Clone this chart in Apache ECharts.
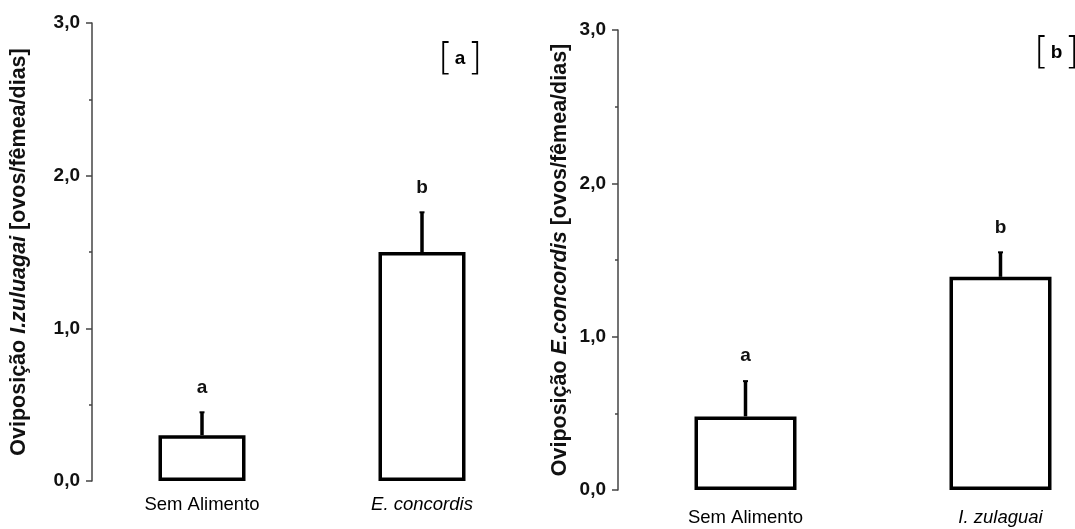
<!DOCTYPE html>
<html>
<head>
<meta charset="utf-8">
<script src="https://cdn.jsdelivr.net/npm/echarts@6/dist/echarts.min.js"></script>
<style>
  html, body { margin: 0; padding: 0; background: #fff; }
  #chart { width: 1075px; height: 529px; }
</style>
</head>
<body>
<div id="chart"></div>
<script>
// panel (a): I. zuluagai fed on E. concordis
const categoriesA = ['Sem Alimento', 'E. concordis'];
const meansA = [0.3, 1.5];
const upperA = [0.45, 1.76];
const lettersA = ['a', 'b'];

// panel (b): E. concordis fed on I. zulaguai
const categoriesB = ['Sem Alimento', 'I. zulaguai'];
const meansB = [0.48, 1.39];
const upperB = [0.71, 1.55];
const lettersB = ['a', 'b'];

const yMin = 0;
const yMax = 3;
const yStep = 1;

const font = '"Liberation Sans", Arial, sans-serif';

const catLabel = (value, idx) => idx === 0 ? value : '{it|' + value + '}';
const tickLabel = v => v.toFixed(1).replace('.', ',');

function yAxisFor(gridIndex, species, gap) {
  return {
    type: 'value',
    gridIndex: gridIndex,
    min: yMin, max: yMax, interval: yStep,
    name: '{n|Oviposição }{i|' + species + '}{n| [ovos/fêmea/dias]}',
    nameLocation: 'middle',
    nameRotate: 90,
    nameGap: gap,
    nameTextStyle: {
      rich: {
        n: { fontFamily: font, fontWeight: 'bold', fontSize: 21.5, color: '#111' },
        i: { fontFamily: font, fontWeight: 'bold', fontStyle: 'italic', fontSize: 21.5, color: '#111' }
      }
    },
    axisLine: { show: true, lineStyle: { color: '#444', width: 1.5 } },
    axisTick: { show: true, length: 6, lineStyle: { color: '#444', width: 1.5 } },
    minorTick: { show: true, splitNumber: 2, length: 3, lineStyle: { color: '#444', width: 1.5 } },
    splitLine: { show: false },
    axisLabel: {
      margin: 12,
      formatter: tickLabel,
      fontFamily: font, fontWeight: 'bold', fontSize: 19, color: '#111'
    }
  };
}

function xAxisFor(gridIndex, cats, margin) {
  return {
    type: 'category',
    gridIndex: gridIndex,
    data: cats,
    axisLine: { show: false },
    axisTick: { show: false },
    axisLabel: {
      margin: margin,
      formatter: catLabel,
      fontFamily: font, fontSize: 18.5, color: '#000',
      rich: { it: { fontFamily: font, fontStyle: 'italic', fontSize: 18.5, color: '#000' } }
    }
  };
}

function errorSeries(idx, means, upper, letters) {
  return {
    type: 'custom',
    xAxisIndex: idx,
    yAxisIndex: idx,
    z: 5,
    data: means.map((m, i) => [i, m, upper[i]]),
    encode: { x: 0, y: [1, 2] },
    renderItem: (params, api) => {
      const base = api.coord([api.value(0), api.value(1)]);
      const top = api.coord([api.value(0), api.value(2)]);
      return {
        type: 'group',
        children: [
          { type: 'line', shape: { x1: base[0], y1: base[1], x2: top[0], y2: top[1] },
            style: { stroke: '#000', lineWidth: 3.5 } },
          { type: 'line', shape: { x1: top[0] - 2.5, y1: top[1], x2: top[0] + 2.5, y2: top[1] },
            style: { stroke: '#000', lineWidth: 2 } },
          { type: 'text', x: top[0], y: top[1] - 25,
            style: { text: letters[params.dataIndex], fontFamily: font, fontWeight: 'bold',
              fontSize: 19, fill: '#111', align: 'center', verticalAlign: 'middle' } }
        ]
      };
    }
  };
}

function barSeries(idx, means, width) {
  return {
    type: 'bar',
    xAxisIndex: idx,
    yAxisIndex: idx,
    data: means,
    barWidth: width,
    itemStyle: { color: '#fff', borderColor: '#000', borderWidth: 3.5 }
  };
}

function panelTag(x, y, letter) {
  return {
    type: 'text',
    left: x, top: y,
    style: {
      text: '{br|[}{l|' + letter + '}{br|]}',
      rich: {
        br: { fontFamily: '"DejaVu Sans", sans-serif', fontSize: 38, color: '#aaa', fontWeight: 'lighter', padding: [0, 2] },
        l: { fontFamily: font, fontSize: 19, fontWeight: 'bold', color: '#111' }
      }
    }
  };
}

const chart = echarts.init(document.getElementById('chart'));
chart.setOption({
  animation: false,
  backgroundColor: '#fff',
  grid: [
    { left: 92, top: 23, width: 440, height: 458, outerBoundsMode: 'none' },
    { left: 618, top: 30, width: 510, height: 460, outerBoundsMode: 'none' }
  ],
  xAxis: [xAxisFor(0, categoriesA, 14), xAxisFor(1, categoriesB, 18)],
  yAxis: [yAxisFor(0, 'I.zuluagai', 62), yAxisFor(1, 'E.concordis', 47)],
  series: [
    barSeries(0, meansA, 87),
    errorSeries(0, meansA, upperA, lettersA),
    barSeries(1, meansB, 102),
    errorSeries(1, meansB, upperB, lettersB)
  ],
  graphic: [panelTag(438, 40, 'a'), panelTag(1034, 34, 'b')]
});
</script>
</body>
</html>
